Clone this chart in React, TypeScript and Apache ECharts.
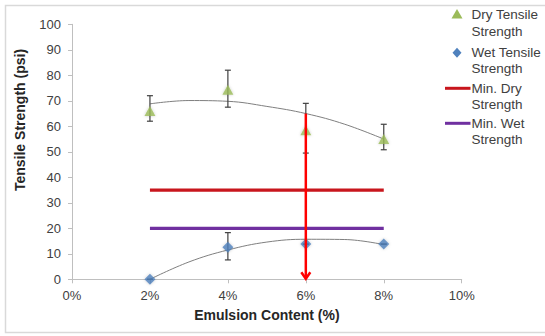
import React, { useEffect, useRef } from "react";
import * as echarts from "echarts";

const xTicks = [0, 2, 4, 6, 8, 10];
const emulsion = [2, 4, 6, 8];
const dryStrength = [66, 74.3, 58.5, 55];
const dryErrLow = [62, 67.5, 49.5, 50.8];
const dryErrHigh = [72, 82, 69, 60.8];
const wetStrength = [0, 12.6, 13.8, 13.8];
const wetErrLow = [0, 7.6, 13.8, 13.8];
const wetErrHigh = [0, 18.3, 13.8, 13.8];
const dryTrendX = [2, 3, 4, 5, 6, 7, 8];
const dryTrendY = [68.8, 70.1, 69.8, 67.8, 65, 60.8, 55];
const wetTrendX = [2, 3, 4, 5, 6, 7, 8];
const wetTrendY = [0, 6.8, 11.5, 14.6, 15.7, 15.6, 13.6];
const minDry = 35;
const minWet = 20;
const arrowX = 6;
const arrowTop = 65;
const arrowBottom = 0;

const FONT = "'Liberation Sans', Arial, sans-serif";

export default function App() {
  const ref = useRef<HTMLDivElement>(null);
  useEffect(() => {
    if (!ref.current) return;
    const chart = echarts.init(ref.current, undefined, { renderer: "svg" });
    const errRender = (color: string) => (params: any, api: any) => {
      const x = api.value(0);
      const lo = api.coord([x, api.value(1)]);
      const hi = api.coord([x, api.value(2)]);
      const cap = 3;
      const st = { stroke: color, lineWidth: 1.2 };
      return {
        type: "group",
        children: [
          { type: "line", shape: { x1: lo[0], y1: lo[1], x2: hi[0], y2: hi[1] }, style: st },
          { type: "line", shape: { x1: lo[0] - cap, y1: lo[1], x2: lo[0] + cap, y2: lo[1] }, style: st },
          { type: "line", shape: { x1: hi[0] - cap, y1: hi[1], x2: hi[0] + cap, y2: hi[1] }, style: st },
        ],
      };
    };
    const option: any = {
      animation: false,
      backgroundColor: "#ffffff",
      textStyle: { fontFamily: FONT },
      grid: { left: 72, right: 83.3, top: 24.3, bottom: 56.7 },
      xAxis: {
        type: "value",
        min: xTicks[0],
        max: xTicks[xTicks.length - 1],
        interval: 2,
        name: "Emulsion Content (%)",
        nameLocation: "middle",
        nameGap: 29,
        nameTextStyle: { fontFamily: FONT, fontSize: 14, fontWeight: "bold", color: "#262626" },
        axisLine: { lineStyle: { color: "#bfbfbf", width: 1 } },
        axisTick: { show: true, length: 4, inside: false, lineStyle: { color: "#bfbfbf" } },
        axisLabel: { formatter: "{value}%", fontFamily: FONT, fontSize: 13, color: "#404040", margin: 10 },
        splitLine: { show: false },
      },
      yAxis: {
        type: "value",
        min: 0,
        max: 100,
        interval: 10,
        axisLine: { show: true, lineStyle: { color: "#bfbfbf", width: 1 } },
        axisTick: { show: true, length: 4, lineStyle: { color: "#bfbfbf" } },
        axisLabel: { fontFamily: FONT, fontSize: 13, color: "#404040", margin: 11 },
        splitLine: { show: false },
      },
      graphic: [
        {
          type: "rect",
          shape: { x: 5.5, y: 5.5, width: 600, height: 327 },
          style: { fill: "none", stroke: "#d9d9d9", lineWidth: 1.5 },
          silent: true,
          z: -10,
        },
        {
          type: "text",
          x: 20,
          y: 120,
          rotation: Math.PI / 2,
          style: {
            text: "Tensile Strength (psi)",
            x: 0,
            y: 0,
            align: "center",
            verticalAlign: "middle",
            font: `bold 14px ${FONT}`,
            fill: "#262626",
          },
        },
        {
          type: "polygon",
          shape: { points: [[457, 9], [462.5, 18.5], [451.5, 18.5]] },
          style: { fill: "#9bbb59" },
        },
        {
          type: "polygon",
          shape: { points: [[457, 47.7], [461.5, 52.7], [457, 57.7], [452.5, 52.7]] },
          style: { fill: "#4f81bd" },
        },
        {
          type: "line",
          shape: { x1: 445, y1: 88.3, x2: 470.5, y2: 88.3 },
          style: { stroke: "#c8161d", lineWidth: 3 },
        },
        {
          type: "line",
          shape: { x1: 445, y1: 123.3, x2: 470.5, y2: 123.3 },
          style: { stroke: "#7030a0", lineWidth: 3 },
        },
        {
          type: "text",
          x: 471.5,
          y: 5.5,
          style: { text: "Dry Tensile\nStrength", font: `13.5px ${FONT}`, fill: "#404040", lineHeight: 17.5, verticalAlign: "top" },
        },
        {
          type: "text",
          x: 471.5,
          y: 44,
          style: { text: "Wet Tensile\nStrength", font: `13.5px ${FONT}`, fill: "#404040", lineHeight: 16.5, verticalAlign: "top" },
        },
        {
          type: "text",
          x: 471.5,
          y: 79.8,
          style: { text: "Min. Dry\nStrength", font: `13.5px ${FONT}`, fill: "#404040", lineHeight: 16.5, verticalAlign: "top" },
        },
        {
          type: "text",
          x: 471.5,
          y: 114.8,
          style: { text: "Min. Wet\nStrength", font: `13.5px ${FONT}`, fill: "#404040", lineHeight: 16.5, verticalAlign: "top" },
        },
      ],
      series: [
        {
          name: "Dry trend",
          type: "line",
          smooth: 0.4,
          showSymbol: false,
          symbol: "none",
          data: dryTrendX.map((x, i) => [x, dryTrendY[i]]),
          lineStyle: { color: "#7f7f7f", width: 1 },
          z: 1,
          silent: true,
        },
        {
          name: "Wet trend",
          type: "line",
          smooth: 0.4,
          showSymbol: false,
          symbol: "none",
          data: wetTrendX.map((x, i) => [x, wetTrendY[i]]),
          lineStyle: { color: "#7f7f7f", width: 1 },
          z: 1,
          silent: true,
        },
        {
          name: "Min. Dry Strength",
          type: "line",
          symbol: "none",
          data: [[emulsion[0], minDry], [emulsion[emulsion.length - 1], minDry]],
          lineStyle: { color: "#c8161d", width: 3.2 },
          z: 2,
        },
        {
          name: "Min. Wet Strength",
          type: "line",
          symbol: "none",
          data: [[emulsion[0], minWet], [emulsion[emulsion.length - 1], minWet]],
          lineStyle: { color: "#7030a0", width: 3.2 },
          z: 2,
        },
        {
          name: "Dry error",
          type: "custom",
          renderItem: errRender("#404040"),
          encode: { x: 0, y: [1, 2] },
          data: emulsion.map((x, i) => [x, dryErrLow[i], dryErrHigh[i]]),
          z: 3,
        },
        {
          name: "Wet error",
          type: "custom",
          renderItem: errRender("#404040"),
          encode: { x: 0, y: [1, 2] },
          data: emulsion.map((x, i) => [x, wetErrLow[i], wetErrHigh[i]]),
          z: 3,
        },
        {
          name: "Dry Tensile Strength",
          type: "scatter",
          symbol: "triangle",
          symbolSize: [11, 10],
          data: emulsion.map((x, i) => [x, dryStrength[i]]),
          itemStyle: { color: "#9bbb59", shadowBlur: 3, shadowColor: "rgba(0,0,0,0.25)" },
          z: 4,
        },
        {
          name: "Wet Tensile Strength",
          type: "scatter",
          symbol: "diamond",
          symbolSize: [11, 11],
          data: emulsion.map((x, i) => [x, wetStrength[i]]),
          itemStyle: { color: "#4f81bd", shadowBlur: 3, shadowColor: "rgba(0,0,0,0.25)" },
          z: 4,
        },
        {
          name: "Arrow",
          type: "custom",
          encode: { x: 0, y: [1, 2] },
          data: [[arrowX, arrowTop, arrowBottom]],
          z: 5,
          renderItem: (params: any, api: any) => {
            const x = api.value(0);
            const top = api.coord([x, api.value(1)]);
            const bot = api.coord([x, api.value(2)]);
            const st = { stroke: "#ff0000", lineWidth: 2.5, fill: "none" };
            return {
              type: "group",
              children: [
                { type: "line", shape: { x1: top[0], y1: top[1], x2: bot[0], y2: bot[1] - 1 }, style: st },
                {
                  type: "polyline",
                  shape: { points: [[bot[0] - 4.5, bot[1] - 7], [bot[0], bot[1] - 0.5], [bot[0] + 4.5, bot[1] - 7]] },
                  style: st,
                },
              ],
            };
          },
        },
      ],
    };
    chart.setOption(option);
    return () => chart.dispose();
  }, []);
  return (
    <div
      ref={ref}
      style={{ position: "absolute", left: 0, top: 0, width: 545, height: 336, background: "#fff" }}
    />
  );
}
